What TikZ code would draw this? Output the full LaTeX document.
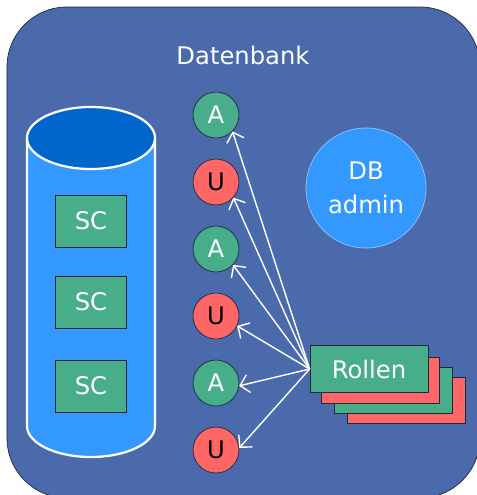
\documentclass[tikz,border=0pt]{standalone}
\usepackage{fontspec}
\setmainfont{DejaVu Sans}
\usetikzlibrary{arrows.meta}
\definecolor{bgblue}{RGB}{74,106,172}
\definecolor{cylbody}{RGB}{51,153,255}
\definecolor{cyltop}{RGB}{0,102,204}
\definecolor{rgreen}{RGB}{72,174,138}
\definecolor{rred}{RGB}{255,102,102}
\definecolor{rim}{RGB}{30,40,60}
\begin{document}
\begin{tikzpicture}[x=0.2mm, y=-0.2mm, node distance={13.4mm},
  font=\fontsize{13.8}{19.5}\selectfont,
  >={Straight Barb[length=1.7mm,width=3.6mm]},
  grp/.style = {draw=rim, circle, minimum size=9.2mm, inner sep=0pt},
  rolle/.style = {grp, fill=rgreen, text=white},
  user/.style = {grp, fill=rred, text=black},
  sc/.style = {draw=rim, fill=rgreen, text=white, minimum width=14.2mm, minimum height=10.4mm},
  karte/.style = {draw=rim, minimum width=23.6mm, minimum height=9.3mm}]
\useasboundingbox (0,0) rectangle (477,495);
\clip (0,0) rectangle (477,495);
\draw[rim, fill=bgblue, rounded corners=12mm] (7,7) rectangle (480,498);
\node[text=white] (titel) at (243,55) {Datenbank};
% zylinder
\fill[cylbody] (27,138) -- (27,426) arc (180:360:12.8mm and 6.2mm) -- (155,138) -- cycle;
\draw[white, line width=0.45mm] (27,138) -- (27,426) arc (180:360:12.8mm and 6.2mm) -- (155,138);
\draw[white, line width=0.45mm, fill=cyltop] (91,138) ellipse (12.8mm and 6.2mm);
\node[sc] (sc1) at (91,221) {SC};
\node[sc] (sc2) at (91,302) {SC};
\node[sc] (sc3) at (91,386) {SC};
% rollen und user
\node[rolle] (a1) at (216,115) {A};
\node[user, below of = a1] (u1) {U};
\node[rolle, below of = u1] (a2) {A};
\node[user, below of = a2] (u2) {U};
\node[rolle, below of = u2] (a3) {A};
\node[user, below of = a3] (u3) {U};
\node[circle, fill=cylbody, draw=cylbody!55!white, minimum size=24mm, text=white, align=center] (admin) at (366,188) {DB\\admin};
\node[karte, fill=rred] (k3) at (406,400.5) {};
\node[karte, fill=rgreen] (k2) at (393,390.5) {};
\node[karte, fill=rred] (k1) at (380.5,380.5) {};
\node[karte, fill=rgreen, text=white] (rollen) at (369,369) {Rollen};
\draw[->, white, line width=0.8pt] (rollen.west) -- (a1.-45);
\draw[->, white, line width=0.8pt] (rollen.west) -- (u1.-42);
\draw[->, white, line width=0.8pt] (rollen.west) -- (a2.-43);
\draw[->, white, line width=0.8pt] (rollen.west) -- (u2.-25);
\draw[->, white, line width=0.8pt] (rollen.west) -- (a3.-7);
\draw[->, white, line width=0.8pt] (rollen.west) -- (u3.5);
\end{tikzpicture}
\end{document}
